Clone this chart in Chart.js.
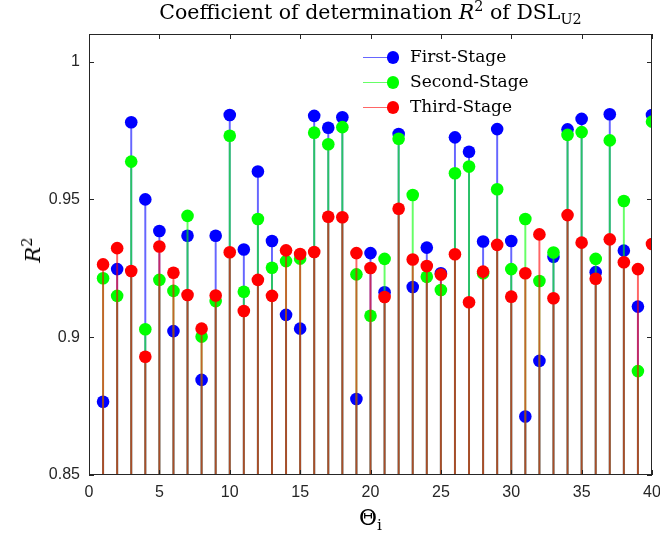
<!DOCTYPE html>
<html>
<head>
<meta charset="utf-8">
<script src="https://cdn.jsdelivr.net/npm/chart.js@4"></script>
<style>
  body { margin: 0; background: #fff; }
  #wrap { position: relative; width: 660px; height: 533px; }
  #chart { position: absolute; left: 0; top: 0; }
  .serif { font-family: "DejaVu Serif", serif; color: #000; position: absolute; white-space: nowrap; }
  #title { top: 0px; left: 0; width: 741px; text-align: center; font-size: 20.5px; }
  #xlabel { top: 505px; left: 0; width: 741px; text-align: center; font-size: 22px; }
  #ylabel { left: 33px; top: 250px; font-size: 21px; transform: translate(-50%, -50%) rotate(-90deg); }
  #legend { left: 362px; top: 45px; font-size: 17px; }
  .row { position: relative; height: 25px; }
  .row .ln { position: absolute; left: 1px; top: 12px; width: 30px; height: 1.3px; }
  .row .dot { position: absolute; left: 24.5px; top: 6px; width: 12.6px; height: 12.6px; border-radius: 50%; }
  .row .tx { position: absolute; left: 48px; top: 1px; }
  sub, sup { font-size: 70%; line-height: 0; }
</style>
</head>
<body>
<div id="wrap">
  <canvas id="chart" width="660" height="533"></canvas>
  <div id="title" class="serif">Coefficient of determination <i>R</i><sup>2</sup> of DSL<sub>U2</sub></div>
  <div id="ylabel" class="serif"><i>R</i><sup>2</sup></div>
  <div id="xlabel" class="serif">&Theta;<sub>i</sub></div>
  <div id="legend" class="serif"></div>
</div>
<script>
const xValues = Array.from({ length: 40 }, (_, i) => i + 1);

const firstStage = [
  0.8766, 0.9247, 0.9780, 0.9500, 0.9385, 0.9022, 0.9368, 0.8845, 0.9368, 0.9806,
  0.9318, 0.9601, 0.9349, 0.9081, 0.9031, 0.9803, 0.9760, 0.9798, 0.8776, 0.9305,
  0.9163, 0.9737, 0.9182, 0.9325, 0.9232, 0.9725, 0.9673, 0.9347, 0.9755, 0.9349,
  0.8712, 0.8914, 0.9292, 0.9754, 0.9792, 0.9236, 0.9809, 0.9314, 0.9111, 0.9806,
];
const secondStage = [
  0.9214, 0.9150, 0.9637, 0.9029, 0.9208, 0.9168, 0.9440, 0.9002, 0.9131, 0.9731,
  0.9165, 0.9429, 0.9252, 0.9276, 0.9285, 0.9742, 0.9700, 0.9762, 0.9228, 0.9078,
  0.9284, 0.9720, 0.9516, 0.9219, 0.9171, 0.9595, 0.9619, 0.9232, 0.9537, 0.9247,
  0.9429, 0.9204, 0.9307, 0.9734, 0.9744, 0.9284, 0.9714, 0.9494, 0.8877, 0.9782,
];
const thirdStage = [
  0.9264, 0.9323, 0.9240, 0.8929, 0.9329, 0.9234, 0.9153, 0.9031, 0.9151, 0.9308,
  0.9095, 0.9208, 0.9150, 0.9315, 0.9302, 0.9309, 0.9437, 0.9435, 0.9305, 0.9251,
  0.9146, 0.9466, 0.9282, 0.9258, 0.9227, 0.9301, 0.9127, 0.9238, 0.9335, 0.9147,
  0.9232, 0.9373, 0.9141, 0.9443, 0.9343, 0.9212, 0.9355, 0.9272, 0.9247, 0.9338,
];

const seriesLabels = ["First-Stage", "Second-Stage", "Third-Stage"];
const seriesValues = [firstStage, secondStage, thirdStage];
const seriesColors = ["#0000ff", "#00ff00", "#ff0000"];
const stemColors = ["rgba(0,0,255,0.6)", "rgba(0,255,0,0.6)", "rgba(255,0,0,0.6)"];

const xTicks = [0, 5, 10, 15, 20, 25, 30, 35, 40];
const yTicks = [0.85, 0.9, 0.95, 1];

const axisColor = "#262626";
const tickFont = { family: "'Liberation Sans', Arial, sans-serif", size: 16 };

// build datasets: stem (bar) + marker (scatter) per series
const datasets = [];
seriesValues.forEach((vals, s) => {
  const pts = xValues.map((x, i) => ({ x, y: vals[i] }));
  datasets.push({
    type: "bar",
    label: seriesLabels[s] + " stem",
    data: pts,
    backgroundColor: stemColors[s],
    borderWidth: 0,
    barThickness: 1.3,
    grouped: false,
    order: 6 - s * 2,
  });
  datasets.push({
    type: "scatter",
    label: seriesLabels[s],
    data: pts,
    backgroundColor: seriesColors[s],
    borderWidth: 0,
    pointRadius: 6.3,
    pointHoverRadius: 6.3,
    order: 5 - s * 2,
  });
});

// box around the axes with inward ticks on all four sides
const boxPlugin = {
  id: "box",
  afterDraw(chart) {
    const { ctx, chartArea: a, scales } = chart;
    ctx.save();
    ctx.strokeStyle = axisColor;
    ctx.lineWidth = 1;
    ctx.strokeRect(a.left + 0.5, a.top + 0.5, a.right - a.left - 1, a.bottom - a.top - 1);
    ctx.beginPath();
    xTicks.forEach((v) => {
      const px = Math.round(scales.x.getPixelForValue(v)) + 0.5;
      ctx.moveTo(px, a.bottom);
      ctx.lineTo(px, a.bottom - 5);
      ctx.moveTo(px, a.top);
      ctx.lineTo(px, a.top + 5);
    });
    yTicks.forEach((v) => {
      const py = Math.round(scales.y.getPixelForValue(v)) + 0.5;
      ctx.moveTo(a.left, py);
      ctx.lineTo(a.left + 5, py);
      ctx.moveTo(a.right, py);
      ctx.lineTo(a.right - 5, py);
    });
    ctx.stroke();
    ctx.restore();
  },
};

new Chart(document.getElementById("chart"), {
  type: "bar",
  data: { datasets },
  options: {
    responsive: false,
    animation: false,
    devicePixelRatio: 1,
    layout: { padding: { top: 34, right: 8, left: 0, bottom: 0 } },
    plugins: { legend: { display: false }, tooltip: { enabled: false } },
    scales: {
      x: {
        type: "linear",
        min: 0,
        max: 40,
        offset: false,
        grid: { display: false, drawTicks: false },
        border: { display: false },
        afterBuildTicks: (scale) => { scale.ticks = xTicks.map((v) => ({ value: v })); },
        ticks: { color: axisColor, font: tickFont, padding: 8, maxRotation: 0, callback: (v) => String(v) },
        afterFit: (scale) => {
          scale.height = 58;
          scale.paddingLeft = 0;
          scale.paddingRight = 0;
        },
      },
      y: {
        type: "linear",
        min: 0.85,
        max: 1.01,
        grid: { display: false, drawTicks: false },
        border: { display: false },
        afterBuildTicks: (scale) => { scale.ticks = yTicks.map((v) => ({ value: v })); },
        ticks: { color: axisColor, font: tickFont, padding: 9, callback: (v) => String(v) },
        afterFit: (scale) => {
          scale.width = 89;
          scale.paddingTop = 0;
          scale.paddingBottom = 0;
        },
      },
    },
  },
  plugins: [boxPlugin],
});

// legend
const legend = document.getElementById("legend");
seriesLabels.forEach((label, s) => {
  const row = document.createElement("div");
  row.className = "row";
  row.innerHTML =
    '<div class="ln" style="background:' + stemColors[s] + '"></div>' +
    '<div class="dot" style="background:' + seriesColors[s] + '"></div>' +
    '<div class="tx">' + label + "</div>";
  legend.appendChild(row);
});
</script>
</body>
</html>
